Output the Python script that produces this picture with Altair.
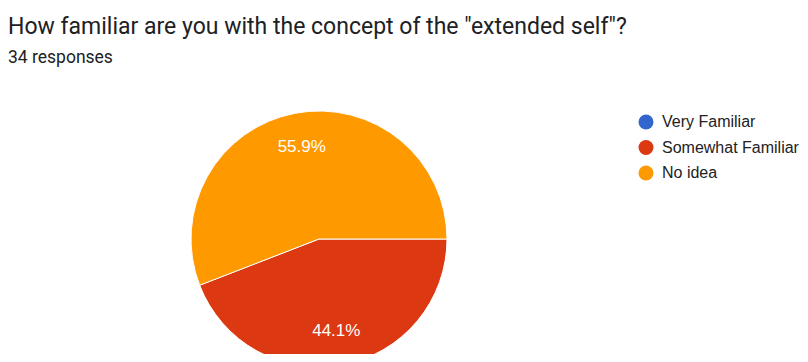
import math
import altair as alt
import pandas as pd

title_text = 'How familiar are you with the concept of the "extended self"?'
subtitle_text = "34 responses"
categories = ["Very Familiar", "Somewhat Familiar", "No idea"]
counts = [0, 15, 19]
colors = ["#3366cc", "#dc3912", "#ff9900"]

total = sum(counts)
df = pd.DataFrame({
    "category": categories,
    "value": counts,
    "ord": list(range(len(categories))),
    "label": [f"{c / total * 100:.1f}%" for c in counts],
})

theta = alt.Theta("value:Q", stack=True,
                  scale=alt.Scale(range=[math.pi / 2, math.pi / 2 + 2 * math.pi]))
color = alt.Color(
    "category:N",
    scale=alt.Scale(domain=categories, range=colors),
    sort=categories,
    legend=alt.Legend(
        title=None, orient="none", legendX=630, legendY=40,
        symbolType="circle", symbolSize=225, symbolStrokeWidth=0,
        labelFont="Liberation Sans", labelFontSize=16, labelColor="#222222",
        labelOffset=8, rowPadding=9.5, labelLimit=300,
    ),
)

cx, cy = 311, 165

pie = alt.Chart(df).mark_arc(radius=128, stroke="white", strokeWidth=1).encode(
    theta=theta,
    color=color,
    order=alt.Order("ord:Q"),
    x=alt.value(cx),
    y=alt.value(cy),
)

labels = alt.Chart(df).mark_text(
    radius=94, font="Liberation Sans", fontSize=17, color="white",
    align="center", baseline="middle",
).encode(
    theta=theta,
    order=alt.Order("ord:Q"),
    text=alt.Text("label:N"),
    x=alt.value(cx),
    y=alt.value(cy),
    opacity=alt.condition("datum.value > 0", alt.value(1), alt.value(0)),
)

chart = alt.layer(pie, labels).properties(
    width=792,
    height=280,
    padding={"left": 0, "top": 66, "right": 0, "bottom": 0},
    autosize=alt.AutoSizeParams(type="none"),
    background="white",
    title=alt.TitleParams(
        text=title_text,
        subtitle=subtitle_text,
        anchor="start",
        frame="group",
        orient="top",
        font="Roboto",
        fontSize=23,
        fontWeight="normal",
        color="#202124",
        subtitleFont="Roboto",
        subtitleFontSize=17.5,
        subtitleColor="#202124",
        subtitlePadding=10,
        offset=8,
    ),
).configure_view(stroke=None)

chart.save("out.html", embed_options={"renderer": "svg", "actions": False})
